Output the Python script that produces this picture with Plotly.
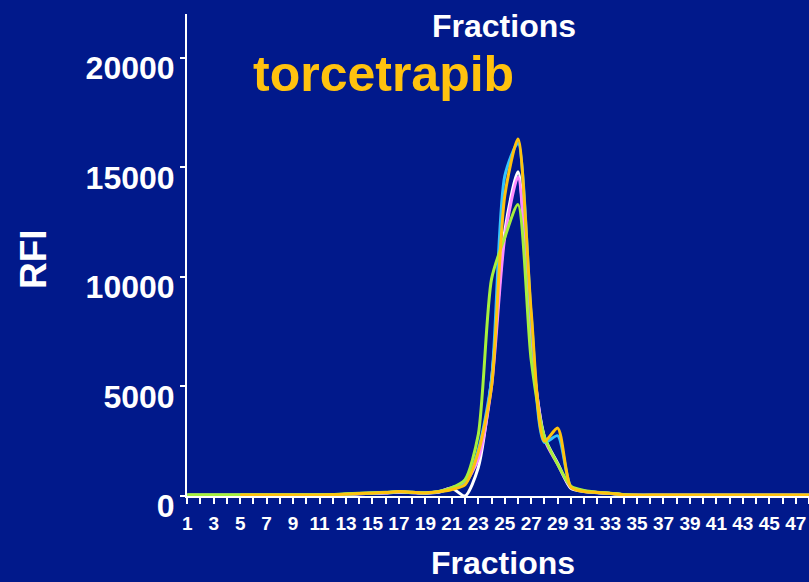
import plotly.graph_objects as go

# Fraction numbers along the elution axis
fractions = list(range(1, 49))
tick_labels = [str(f) if f % 2 == 1 else "" for f in fractions]

# RFI readings per fraction, one list per run
white_run = [30, 30, 30, 30, 30, 30, 30, 30, 35, 35, 40, 45,
             70, 100, 120, 140, 170, 150, 130, 170,
             350, 0, 1300, 5300, 12100, 14800, 6800, 2700, 1500, 350, 200,
             150, 110, 60,
             30, 30, 30, 30, 30, 30, 30, 30, 30, 30, 30, 30, 30, 30]
pink_run = [30, 30, 30, 30, 30, 30, 30, 30, 35, 35, 40, 45,
            75, 105, 125, 150, 180, 160, 135, 190,
            380, 600, 1700, 5000, 11800, 14550, 6900, 2600, 1450, 400, 230,
            160, 120, 60,
            30, 30, 30, 30, 30, 30, 30, 30, 30, 30, 30, 30, 30, 30]
cyan_run = [35, 35, 35, 35, 35, 35, 35, 35, 40, 40, 45, 50,
            80, 110, 130, 160, 200, 170, 140, 190,
            330, 560, 2100, 5300, 14600, 16100, 8200, 2450, 2750, 420, 210,
            160, 120, 55,
            30, 30, 30, 30, 30, 30, 30, 30, 30, 30, 30, 30, 30, 30]
green_run = [60, 60, 60, 60, 60, 55, 55, 55, 55, 55, 60, 65,
             100, 130, 150, 170, 190, 170, 150, 210,
             380, 750, 2800, 9900, 11800, 13300, 6200, 2700, 1450, 450, 250,
             170, 130, 60,
             35, 35, 35, 35, 35, 35, 35, 35, 35, 35, 35, 35, 35, 35]
gold_run = [None, None, None, None, 45, 45, 45, 45, 45, 45, 50, 55,
            80, 110, 130, 160, 200, 170, 140, 190,
            300, 520, 2000, 5000, 13700, 16300, 8400, 2500, 3100, 400, 200,
            160, 120, 50,
            40, 40, 40, 40, 40, 40, 40, 40, 40, 40, 40, 40, 40, 40]

runs = [
    ("white", white_run, "#FFFFFF"),
    ("pink", pink_run, "#FF8CFF"),
    ("cyan", cyan_run, "#33C4FF"),
    ("green", green_run, "#A6F03C"),
    ("gold", gold_run, "#FFC20E"),
]

BG = "#01198B"
FONT = "Liberation Sans, Arial, sans-serif"

fig = go.Figure()
for name, values, color in runs:
    fig.add_trace(go.Scatter(
        x=fractions, y=values, name=name, mode="lines",
        line=dict(color=color, width=3, shape="spline", smoothing=0.7),
        connectgaps=False, showlegend=False,
    ))

fig.update_layout(
    width=809, height=582,
    margin=dict(l=187, r=0, t=14, b=86),
    paper_bgcolor=BG, plot_bgcolor=BG,
    font=dict(family=FONT, color="white"),
    xaxis=dict(
        range=[0.98, 48.0],
        tickmode="array", tickvals=fractions, ticktext=tick_labels,
        ticks="outside", ticklen=6, tickwidth=2, tickcolor="white",
        showline=True, linecolor="white", linewidth=2,
        showgrid=False, zeroline=False,
        ticklabelstandoff=3,
        tickfont=dict(family=FONT, size=19, color="white", weight="bold"),
        tickangle=0,
    ),
    yaxis=dict(
        range=[0, 22000],
        tickmode="array", tickvals=[0, 5000, 10000, 15000, 20000],
        ticktext=["0", "5000", "10000", "15000", "20000"],
        ticks="outside", ticklen=5, tickwidth=2, tickcolor="white",
        showline=True, linecolor="white", linewidth=2,
        showgrid=False, zeroline=False,
        ticklabelshift=10, ticklabelstandoff=-1,
        tickfont=dict(family=FONT, size=32, color="white", weight="bold"),
    ),
    annotations=[
        dict(text="Fractions", xref="paper", yref="paper", x=0.5096, y=0.976,
             xanchor="center", yanchor="middle", showarrow=False,
             font=dict(family=FONT, size=32, color="white", weight="bold")),
        dict(text="torcetrapib", xref="paper", yref="paper", x=0.3159, y=0.876,
             xanchor="center", yanchor="middle", showarrow=False,
             font=dict(family=FONT, size=50, color="#FFC20E", weight="bold")),
        dict(text="Fractions", xref="paper", yref="paper", x=0.508, y=-0.14,
             xanchor="center", yanchor="middle", showarrow=False,
             font=dict(family=FONT, size=32, color="white", weight="bold")),
        dict(text="RFI", xref="paper", yref="paper", x=-0.2476, y=0.4917,
             xanchor="center", yanchor="middle", showarrow=False, textangle=-90,
             font=dict(family=FONT, size=37, color="white", weight="bold")),
    ],
)

fig.write_html("out.html")
